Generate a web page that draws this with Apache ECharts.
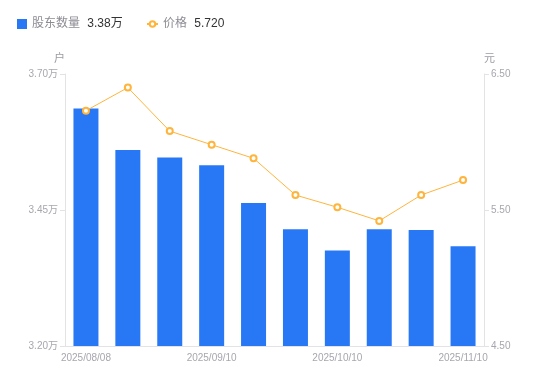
<!DOCTYPE html>
<html>
<head>
<meta charset="utf-8">
<script src="https://cdn.jsdelivr.net/npm/echarts@6/dist/echarts.min.js"></script>
<style>
html,body{margin:0;padding:0;background:#fff;}
#c{width:550px;height:381px;}
</style>
</head>
<body>
<div id="c"></div>
<script>
const categories = ['2025/08/08','2025/08/20','2025/08/29','2025/09/10','2025/09/19','2025/09/30','2025/10/10','2025/10/20','2025/10/31','2025/11/10'];
const holders = [36364, 35603, 35463, 35322, 34629, 34145, 33754, 34145, 34132, 33833];
const prices = [6.23, 6.40, 6.08, 5.98, 5.88, 5.61, 5.52, 5.42, 5.61, 5.72];
const leftTicks = {min: 32000, max: 37000, interval: 2500};
const rightTicks = {min: 4.5, max: 6.5, interval: 1};
const legendValues = {'股东数量': '3.38万', '价格': '5.720'};

const chart = echarts.init(document.getElementById('c'), null, {renderer: 'canvas'});
const font = '"Liberation Sans", "Noto Sans CJK SC", sans-serif';
const labelColor = '#a6a6ae';
const legendText = {
  fontFamily: font,
  rich: {
    a: {color: '#8c8c94', fontSize: 12, fontFamily: font},
    b: {color: '#333', fontSize: 12, fontFamily: font, padding: [0,0,0,4]}
  }
};
const fmt = n => `{a|${n}} {b|${legendValues[n]}}`;
chart.setOption({
  animation: false,
  textStyle: {fontFamily: font},
  legend: [{
    left: 12, top: 13,
    itemWidth: 10, itemHeight: 10,
    textStyle: legendText,
    formatter: fmt,
    data: [{name: '股东数量', icon: 'rect'}]
  }, {
    left: 141, top: 13,
    itemWidth: 11, itemHeight: 7,
    textStyle: legendText,
    formatter: fmt,
    data: [{name: '价格'}]
  }],
  grid: {left: 65, right: 66, top: 74, bottom: 35},
  xAxis: {
    type: 'category',
    data: categories,
    axisLine: {lineStyle: {color: '#e3e3e6'}},
    axisTick: {show: false},
    axisLabel: {color: labelColor, fontSize: 10, interval: 2, margin: 7, fontFamily: font}
  },
  yAxis: [{
    type: 'value',
    min: leftTicks.min, max: leftTicks.max, interval: leftTicks.interval,
    name: '户',
    nameGap: 10,
    nameTextStyle: {color: '#9a9aa2', fontSize: 11, align: 'right'},
    axisLine: {show: true, lineStyle: {color: '#e3e3e6'}},
    axisTick: {show: true, length: 5, lineStyle: {color: '#e3e3e6'}},
    splitLine: {show: false},
    axisLabel: {color: labelColor, fontSize: 10, margin: 7, formatter: v => (v/10000).toFixed(2) + '万'}
  }, {
    type: 'value',
    min: rightTicks.min, max: rightTicks.max, interval: rightTicks.interval,
    name: '元',
    nameGap: 10,
    nameTextStyle: {color: '#9a9aa2', fontSize: 11, align: 'left'},
    axisLine: {show: true, lineStyle: {color: '#e3e3e6'}},
    axisTick: {show: true, length: 5, lineStyle: {color: '#e3e3e6'}},
    splitLine: {show: false},
    axisLabel: {color: labelColor, fontSize: 10, margin: 7, formatter: v => v.toFixed(2)}
  }],
  series: [{
    name: '股东数量',
    type: 'bar',
    data: holders,
    barWidth: 25,
    itemStyle: {color: '#2878f5'}
  }, {
    name: '价格',
    type: 'line',
    yAxisIndex: 1,
    data: prices,
    symbol: 'emptyCircle',
    symbolSize: 6,
    lineStyle: {color: '#ffb43c', width: 1},
    itemStyle: {color: '#ffb43c', borderWidth: 2}
  }]
});
</script>
</body>
</html>
